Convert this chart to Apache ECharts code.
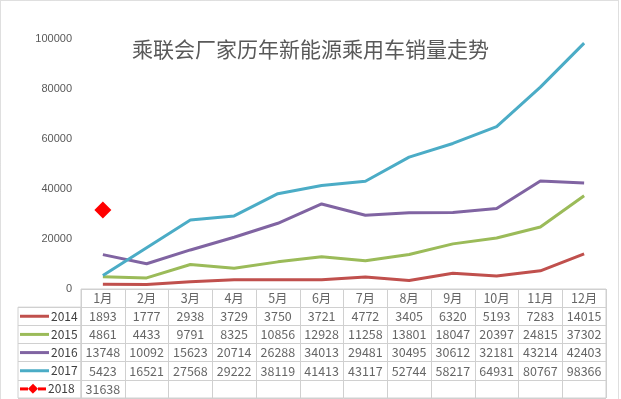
<!DOCTYPE html>
<html>
<head>
<meta charset="utf-8">
<script src="https://cdn.jsdelivr.net/npm/echarts@6/dist/echarts.min.js"></script>
<style>
  html, body { margin: 0; padding: 0; background: #fff; }
  #main { width: 621px; height: 399px; }
</style>
</head>
<body>
<div id="main"></div>
<script>
// 数据
var months = ['1月', '2月', '3月', '4月', '5月', '6月', '7月', '8月', '9月', '10月', '11月', '12月'];
var years = ['2014', '2015', '2016', '2017', '2018'];
var sales2014 = [1893, 1777, 2938, 3729, 3750, 3721, 4772, 3405, 6320, 5193, 7283, 14015];
var sales2015 = [4861, 4433, 9791, 8325, 10856, 12928, 11258, 13801, 18047, 20397, 24815, 37302];
var sales2016 = [13748, 10092, 15623, 20714, 26288, 34013, 29481, 30495, 30612, 32181, 43214, 42403];
var sales2017 = [5423, 16521, 27568, 29222, 38119, 41413, 43117, 52744, 58217, 64931, 80767, 98366];
var sales2018 = [31638];
var yTicks = [0, 20000, 40000, 60000, 80000, 100000];

var colors = ['#c0504d', '#9bbb59', '#8064a2', '#4bacc6', '#ff0000'];
var allSales = [sales2014, sales2015, sales2016, sales2017, sales2018];

var textColor = '#404040';
var lineColor = '#d0d0d0';
var tableTop = 289;
var rowH = 109 / 6;

//表格单元格
var tableData = [];
months.forEach(function (m, i) {
    tableData.push([i, 0, m]);
});
allSales.forEach(function (arr, r) {
    arr.forEach(function (v, i) {
        tableData.push([i, r + 1, String(v)]);
    });
});

//图例
var rich = { t: { fontSize: 12, color: textColor, padding: [0, 0, 0, 2], fontFamily: 'Noto Sans CJK SC' } };
years.forEach(function (y, r) {
    rich['s' + y] = { width: 29, height: 3, backgroundColor: colors[r] };
});
rich.r = { width: 8, height: 3, backgroundColor: '#ff0000' };
rich.d = { color: '#ff0000', fontSize: 13, lineHeight: 14 };

var lineSeries = years.slice(0, 4).map(function (y, r) {
    return {
        name: y,
        type: 'line',
        data: allSales[r],
        symbol: 'none',
        lineStyle: { width: 3, color: colors[r] },
        itemStyle: { color: colors[r] }
    };
});
lineSeries.push({
    name: '2018',
    type: 'line',
    data: sales2018,
    symbol: 'diamond',
    symbolSize: 17,
    lineStyle: { width: 3, color: colors[4] },
    itemStyle: { color: colors[4] }
});

var chart = echarts.init(document.getElementById('main'));
chart.setOption({
    animation: false,
    backgroundColor: '#fff',
    title: {
        text: '乘联会厂家历年新能源乘用车销量走势',
        left: 'center',
        top: 34,
        textStyle: { fontSize: 21, fontWeight: 'normal', color: '#595959', fontFamily: 'Noto Sans CJK SC' }
    },
    graphic: [{
        type: 'rect',
        shape: { x: 0.5, y: 0.5, width: 618, height: 420 },
        style: { fill: 'none', stroke: '#bfbfbf', lineWidth: 1, lineDash: [1, 1] },
        silent: true
    }],
    grid: [
        { left: 81, right: 15, top: 39, bottom: 110 },
        { left: 81, right: 15, top: tableTop, bottom: 1, show: true, borderColor: lineColor, borderWidth: 1, backgroundColor: 'transparent' },
        { left: 18, width: 63, top: tableTop + rowH, bottom: 1, show: true, borderColor: lineColor, borderWidth: 1, backgroundColor: 'transparent' }
    ],
    xAxis: [
        { type: 'category', gridIndex: 0, data: months, show: false },
        {
            type: 'category', gridIndex: 1, data: months,
            axisLine: { show: false }, axisTick: { show: false }, axisLabel: { show: false },
            splitLine: { show: true, interval: 0, lineStyle: { color: lineColor } }
        },
        { type: 'category', gridIndex: 2, data: [''], show: false }
    ],
    yAxis: [
        {
            type: 'value', gridIndex: 0, min: yTicks[0], max: yTicks[yTicks.length - 1], interval: 20000,
            axisLine: { show: false }, axisTick: { show: false }, splitLine: { show: false },
            axisLabel: {
                margin: 9, fontSize: 11, color: '#595959', fontFamily: 'Liberation Sans',
                formatter: function (v) { return String(v); }
            }
        },
        {
            type: 'category', gridIndex: 1, inverse: true, data: [''].concat(years),
            axisLine: { show: false }, axisTick: { show: false }, axisLabel: { show: false },
            splitLine: { show: true, interval: 0, lineStyle: { color: lineColor } }
        },
        {
            type: 'category', gridIndex: 2, inverse: true, data: years,
            axisLine: { show: false }, axisTick: { show: false },
            splitLine: { show: true, interval: 0, lineStyle: { color: lineColor } },
            axisLabel: {
                inside: true, margin: 2, rich: rich,
                formatter: function (v) {
                    if (v === '2018') {
                        return '{r|}{d|◆}{r|}{t|' + v + '}';
                    }
                    return '{s' + v + '|}{t|' + v + '}';
                }
            }
        }
    ],
    series: lineSeries.concat([{
        type: 'scatter',
        xAxisIndex: 1,
        yAxisIndex: 1,
        data: tableData,
        symbolSize: 1,
        silent: true,
        itemStyle: { color: 'transparent' },
        label: {
            show: true,
            position: 'inside',
            color: textColor,
            fontSize: 12.5,
            fontFamily: 'Noto Sans CJK SC',
            formatter: function (p) { return p.value[2]; }
        }
    }])
});
</script>
</body>
</html>
